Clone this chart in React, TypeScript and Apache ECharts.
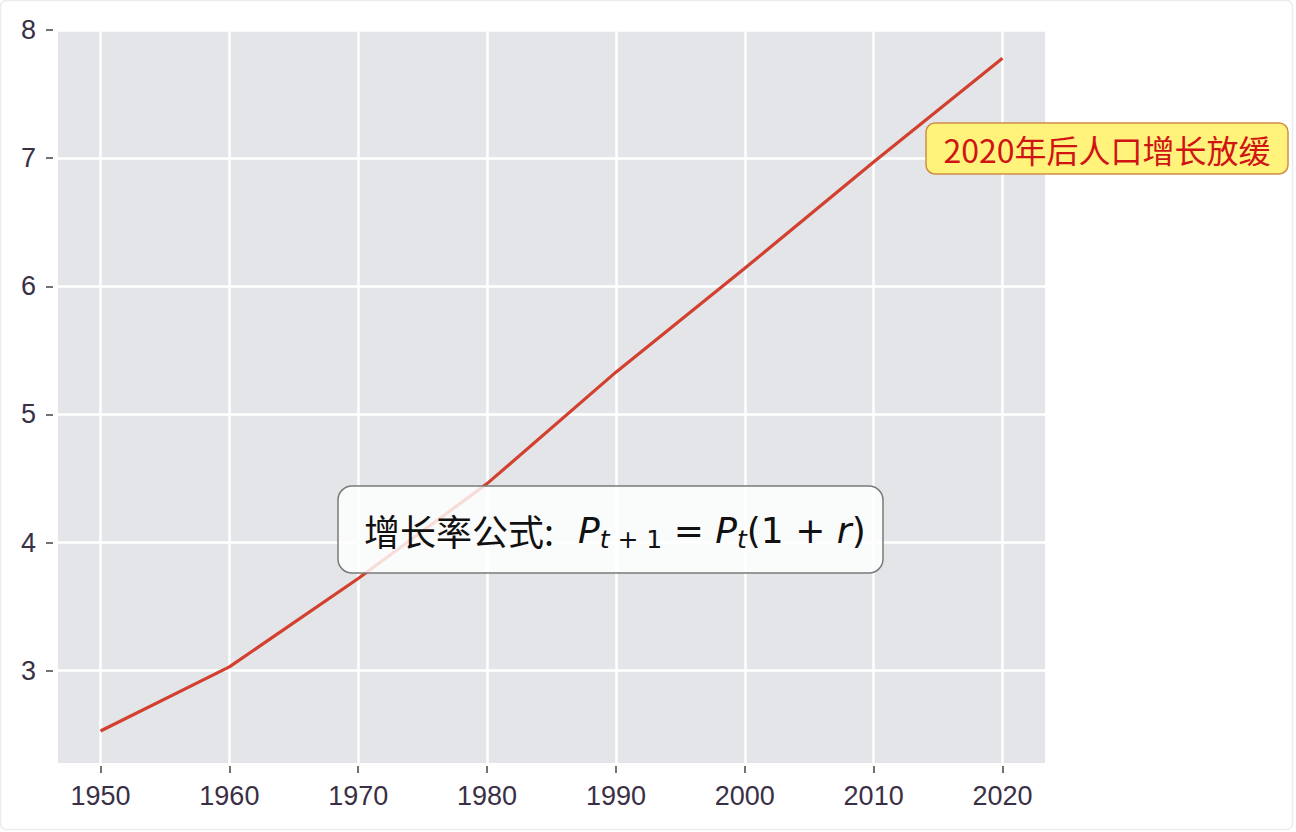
import React, { useEffect, useRef } from "react";
import * as echarts from "echarts";

const years = [1950, 1960, 1970, 1980, 1990, 2000, 2010, 2020];
const population = [2.53, 3.03, 3.72, 4.46, 5.33, 6.14, 6.97, 7.78];
const xTicks = [1950, 1960, 1970, 1980, 1990, 2000, 2010, 2020];
const yTicks = [3, 4, 5, 6, 7, 8];
const noteText = "2020年后人口增长放缓";
const formulaLabel = "增长率公式:";

export default function App() {
  const ref = useRef<HTMLDivElement>(null);
  useEffect(() => {
    if (!ref.current) return;
    const chart = echarts.init(ref.current, null, { renderer: "svg" });
    const tickColor = "#3a3046";
    const cjk = "'Noto Sans CJK SC', sans-serif";
    const math = "'DejaVu Sans', sans-serif";
    const tickFont = "'Liberation Sans', Arial, sans-serif";
    chart.setOption({
      animation: false,
      backgroundColor: "#ffffff",
      grid: {
        left: 58,
        right: 251,
        top: 30,
        bottom: 69,
        show: true,
        backgroundColor: "#e4e5e8",
        borderWidth: 0,
      },
      xAxis: {
        type: "value",
        min: 1946.7,
        max: 2023.3,
        offset: 3,
        axisLine: { show: false },
        axisTick: {
          show: true,
          length: 7,
          lineStyle: { color: "#444", width: 1.5 },
          customValues: xTicks,
        },
        axisLabel: {
          customValues: xTicks,
          formatter: (v: number) => String(v),
          margin: 16,
          fontSize: 27,
          fontFamily: tickFont,
          color: tickColor,
        },
        splitLine: { show: true, lineStyle: { color: "#ffffff", width: 2.5 } },
      },
      yAxis: {
        type: "value",
        min: 2.28,
        max: 8.0,
        offset: 5,
        axisLine: { show: false },
        axisTick: {
          show: true,
          length: 7,
          lineStyle: { color: "#444", width: 1.5 },
          customValues: yTicks,
        },
        axisLabel: {
          customValues: yTicks,
          formatter: (v: number) => String(v),
          margin: 17,
          fontSize: 27,
          fontFamily: tickFont,
          color: tickColor,
        },
        splitLine: { show: true, lineStyle: { color: "#ffffff", width: 2.5 } },
      },
      series: [
        {
          type: "line",
          data: years.map((y, i) => [y, population[i]]),
          symbol: "none",
          lineStyle: { color: "#d2402f", width: 3.2 },
          z: 3,
        },
      ],
      graphic: [
        {
          type: "rect",
          z: 0,
          silent: true,
          shape: { x: 0.5, y: 0.5, width: 1292, height: 829, r: 6 },
          style: { fill: "none", stroke: "#e9ecf0", lineWidth: 1.5 },
        },
        {
          type: "rect",
          z: 100,
          shape: { x: 926, y: 123, width: 362, height: 51, r: 9 },
          style: { fill: "#fff37c", stroke: "#cf8f45", lineWidth: 1.5 },
        },
        {
          type: "text",
          z: 101,
          x: 1107,
          y: 149,
          style: {
            text: noteText,
            fill: "#d01414",
            fontSize: 32,
            fontFamily: cjk,
            align: "center",
            verticalAlign: "middle",
          },
        },
        {
          type: "rect",
          z: 100,
          shape: { x: 338, y: 486, width: 545, height: 87, r: 14 },
          style: {
            fill: "rgba(255,255,255,0.82)",
            stroke: "#7a7a7a",
            lineWidth: 1.5,
          },
        },
        {
          type: "text",
          z: 101,
          x: 364,
          y: 530,
          style: {
            text:
              "{c|" +
              formulaLabel +
              "}{sp| }{it|P}{subi|t}{sub| + 1}{m| = }{it|P}{subi|t}{m|(1 + }{it|r}{m|)}",
            align: "left",
            verticalAlign: "middle",
            fill: "#111",
            rich: {
              c: { fontSize: 36, fontFamily: cjk, lineHeight: 44, fill: "#111" },
              sp: { fontSize: 36, fontFamily: math, lineHeight: 44, width: 24 },
              it: {
                fontSize: 36,
                fontFamily: math,
                fontStyle: "italic",
                lineHeight: 44,
                fill: "#111",
              },
              m: { fontSize: 36, fontFamily: math, lineHeight: 44, fill: "#111" },
              subi: {
                fontSize: 25,
                fontFamily: math,
                fontStyle: "italic",
                lineHeight: 26,
                verticalAlign: "bottom",
                fill: "#111",
              },
              sub: {
                fontSize: 25,
                fontFamily: math,
                lineHeight: 26,
                verticalAlign: "bottom",
                fill: "#111",
              },
            },
          },
        },
      ],
    });
    return () => chart.dispose();
  }, []);
  return (
    <div
      ref={ref}
      style={{ position: "absolute", left: 0, top: 0, width: 1296, height: 832 }}
    />
  );
}
